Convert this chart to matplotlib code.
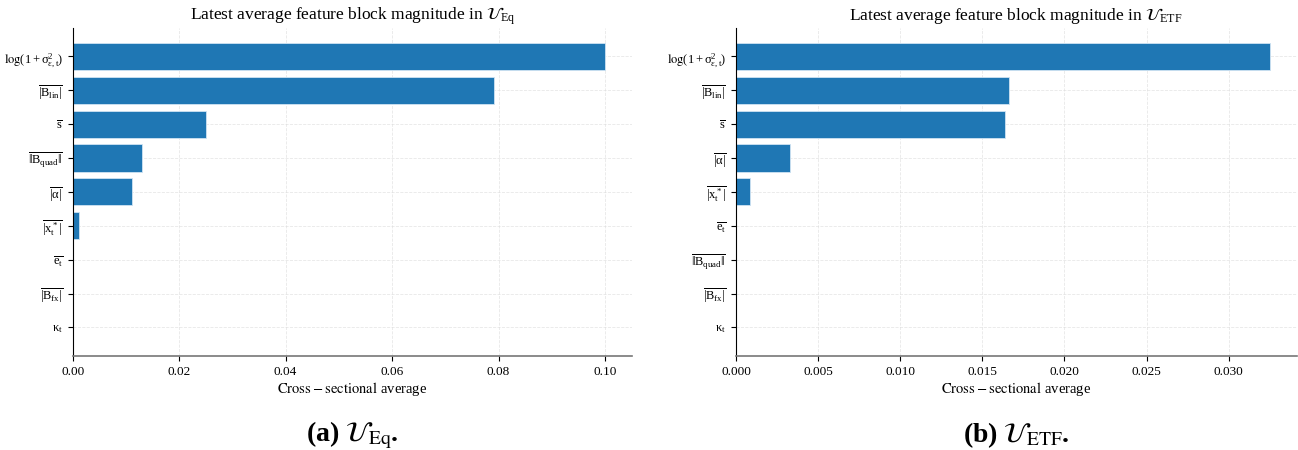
import matplotlib
matplotlib.use("Agg")
import matplotlib.pyplot as plt

plt.rcParams['font.family'] = ['Liberation Serif', 'DejaVu Serif']
plt.rcParams['mathtext.fontset'] = 'stix'
plt.rcParams['mathtext.default'] = 'regular'

# 左图 U_Eq
eq_labels = [r'$\log(1+\sigma^2_{\epsilon,t})$', r'$\overline{|B_{lin}|}$', r'$\overline{s}$',
             r'$\overline{\Vert B_{quad}\Vert}$', r'$\overline{|\alpha|}$', r'$\overline{|x_t^*|}$',
             r'$\overline{e_t}$', r'$\overline{|B_{fx}|}$', r'$\kappa_t$']
eq_values = [0.1001, 0.0791, 0.0251, 0.0131, 0.0111, 0.00125, 0.0, 0.0, 0.0]

# 右图 U_ETF
etf_labels = [r'$\log(1+\sigma^2_{\epsilon,t})$', r'$\overline{|B_{lin}|}$', r'$\overline{s}$',
              r'$\overline{|\alpha|}$', r'$\overline{|x_t^*|}$', r'$\overline{e_t}$',
              r'$\overline{\Vert B_{quad}\Vert}$', r'$\overline{|B_{fx}|}$', r'$\kappa_t$']
etf_values = [0.03252, 0.0166, 0.0164, 0.0033, 0.00083, 0.0, 0.0, 0.0, 0.0]

titles = [r'Latest average feature block magnitude in $\mathcal{U}_{Eq}$',
          r'Latest average feature block magnitude in $\mathcal{U}_{ETF}$']
captions = [r'(a) $\mathcal{U}_{\mathrm{Eq}}$.', r'(b) $\mathcal{U}_{\mathrm{ETF}}$.']

fig = plt.figure(figsize=(12.98, 4.5), dpi=100)
ax1 = fig.add_axes([0.056, 0.209, 0.431, 0.729])
ax2 = fig.add_axes([0.567, 0.209, 0.432, 0.729])

for ax, labels, values, title, cap in zip([ax1, ax2], [eq_labels, etf_labels],
                                          [eq_values, etf_values], titles, captions):
    y = range(len(labels))
    ax.barh(y, values, height=0.8, color='#1f77b4', edgecolor='#cfe3f3', linewidth=0.6)
    ax.set_yticks(list(y))
    ax.set_yticklabels(labels, fontsize=9)
    ax.invert_yaxis()
    ax.set_title(title, fontsize=12.5, pad=6)
    ax.set_xlabel(r'$\mathrm{Cross-sectional}$ average', fontsize=10.5, labelpad=2)
    ax.tick_params(axis='x', labelsize=9.5)
    ax.grid(True, linestyle='--', linewidth=0.6, color='#dddddd', alpha=0.7)
    ax.set_axisbelow(True)
    ax.spines['top'].set_visible(False)
    ax.spines['right'].set_visible(False)
    ax.spines['bottom'].set_color('#777777')
    ax.spines['bottom'].set_linewidth(1.2)
    pos = ax.get_position()
    fig.text(pos.x0 + pos.width / 2, 0.033, cap, ha='center', va='center',
             fontsize=20, fontweight='bold')

ax1.set_xticks([0.0, 0.02, 0.04, 0.06, 0.08, 0.10])
ax1.set_xticklabels(['0.00', '0.02', '0.04', '0.06', '0.08', '0.10'])

fig.savefig('out.png', dpi=100)
